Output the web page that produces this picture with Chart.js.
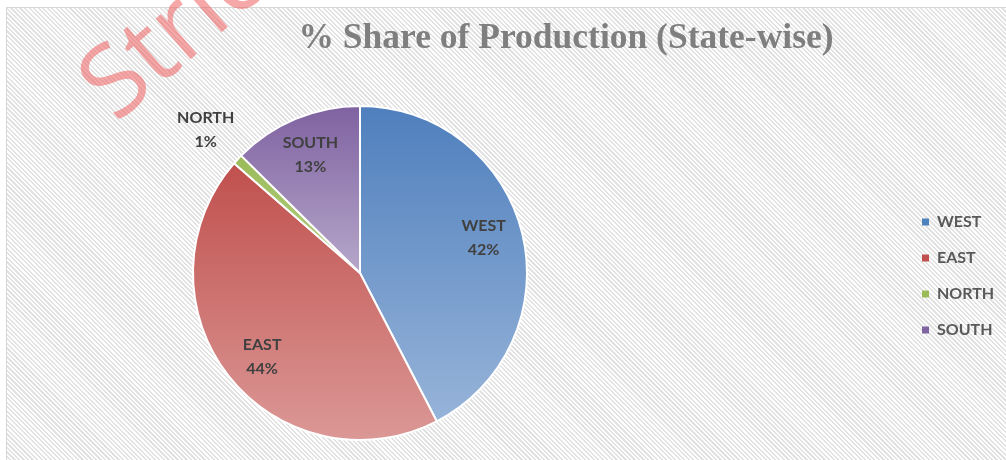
<!DOCTYPE html>
<html><head><meta charset="utf-8">
<script src="https://cdn.jsdelivr.net/npm/chart.js@4.4.1/dist/chart.umd.min.js"></script>
<style>
html,body{margin:0;padding:0;width:1006px;height:460px;overflow:hidden;background:#fff;}
#bg{position:absolute;left:6px;top:7px;width:1010px;height:470px;border:1px solid #d6d6d6;
background:repeating-linear-gradient(45deg,#ffffff 0px,#ffffff 1.6px,#e2e2e2 1.6px,#e2e2e2 3.2px);}
#wrap{position:absolute;left:0;top:0;width:1006px;height:460px;}
</style></head><body>
<div id="bg"></div>
<div id="wrap"><canvas id="c" width="1006" height="460"></canvas></div>
<script>
const categories = ['WEST', 'EAST', 'NORTH', 'SOUTH'];
const shares = [42.4, 44.0, 1.0, 12.6];
const topColors = ['#4f7fbd', '#c0504d', '#9bbb59', '#7f62a1'];
const bottomColors = ['#97b4d9', '#db9896', '#b5cf85', '#b6a7ca'];
const legendColors = ['#4f81bd', '#c0504d', '#9bbb59', '#8064a2'];
const titleText = '% Share of Production (State-wise)';
const watermark = 'Stric';

const R = 167;
Chart.defaults.font.family = 'Lato';

function sliceGradient(c) {
  const chart = c.chart, i = c.dataIndex;
  const a = chart.chartArea;
  if (!a || i === undefined) return legendColors[i || 0];
  const cx = (a.left + a.right) / 2, cy = (a.top + a.bottom) / 2;
  const total = shares.reduce((s, v) => s + v, 0);
  let start = 0;
  for (let k = 0; k < i; k++) start += shares[k];
  const a0 = start / total * 2 * Math.PI, a1 = (start + shares[i]) / total * 2 * Math.PI;
  const ys = [cy, cy - R * Math.cos(a0), cy - R * Math.cos(a1)];
  if (a0 <= 1e-9) ys.push(cy - R);
  if (a1 >= 2 * Math.PI - 1e-9) ys.push(cy - R);
  if (a0 <= Math.PI && a1 >= Math.PI) ys.push(cy + R);
  const g = chart.ctx.createLinearGradient(0, Math.min(...ys), 0, Math.max(...ys));
  g.addColorStop(0, topColors[i]);
  g.addColorStop(1, bottomColors[i]);
  return g;
}

const watermarkPlugin = {
  id: 'watermark',
  beforeDraw(chart) {
    const ctx = chart.ctx;
    ctx.save();
    ctx.translate(116, 124);
    ctx.rotate(-41 * Math.PI / 180);
    ctx.font = '100px "Open Sans"';
    ctx.fillStyle = 'rgba(238,96,96,0.55)';
    ctx.textBaseline = 'alphabetic';
    ctx.fillText(watermark, 0, 0);
    ctx.restore();
  }
};

const labelPlugin = {
  id: 'sliceLabels',
  afterDatasetsDraw(chart) {
    const meta = chart.getDatasetMeta(0);
    const ctx = chart.ctx;
    ctx.save();
    ctx.font = 'bold 16px Lato';
    ctx.fillStyle = '#404040';
    ctx.textAlign = 'center';
    ctx.textBaseline = 'middle';
    meta.data.forEach((arc, i) => {
      const p = arc.getProps(['x', 'y', 'startAngle', 'endAngle', 'outerRadius'], true);
      const mid = (p.startAngle + p.endAngle) / 2 - (shares[i] > 30 ? 0.04 : 0);
      const f = shares[i] < 5 ? 1.26 : 0.77;
      const px = p.x + Math.cos(mid) * p.outerRadius * f;
      const py = p.y + Math.sin(mid) * p.outerRadius * f;
      ctx.fillText(categories[i], px, py - 12);
      ctx.fillText(Math.round(shares[i]) + '%', px, py + 12);
    });
    ctx.restore();
  }
};

const chart = new Chart(document.getElementById('c'), {
  type: 'pie',
  data: {
    labels: categories,
    datasets: [{
      data: shares,
      backgroundColor: sliceGradient,
      borderColor: '#ffffff',
      borderWidth: 2,
      radius: R
    }]
  },
  options: {
    responsive: false,
    animation: false,
    events: [],
    layout: { padding: { left: 130, right: 4, top: 0, bottom: 0 } },
    plugins: {
      tooltip: { enabled: false },
      title: {
        display: true,
        text: titleText,
        color: '#7f7f7f',
        font: { family: '"Liberation Serif"', size: 35.5, weight: 'bold', lineHeight: 1.2 },
        padding: { top: 17.7, bottom: 25.7 }
      },
      subtitle: {
        display: true,
        text: '',
        position: 'right',
        fullSize: false,
        weight: 500,
        font: { size: 1, lineHeight: 1 },
        padding: { top: 300, bottom: 0 }
      },
      legend: {
        display: true,
        position: 'right',
        fullSize: false,
        align: 'center',
        title: { display: true, text: '', padding: 0, font: { size: 5, lineHeight: 1.2 } },
        labels: {
          boxWidth: 7,
          boxHeight: 7,
          padding: 20,
          color: '#595959',
          font: { family: 'Lato', size: 16, weight: 'bold' },
          generateLabels: () => categories.map((t, i) => ({
            text: t, fillStyle: legendColors[i], strokeStyle: legendColors[i],
            lineWidth: 0, hidden: false, index: i, fontColor: '#595959'
          }))
        }
      }
    }
  },
  plugins: [watermarkPlugin, labelPlugin]
});

function adjust() {
  const L = chart.legend.width;
  const padR = Math.max(0, 1006 - 902 - L);
  const padL = 126 + padR;
  const legendLeft = 1006 - padR - L;
  const S = (padL + legendLeft) - 720;
  chart.options.layout.padding = { left: padL, right: padR, top: 0, bottom: 0 };
  chart.options.plugins.subtitle.padding = { top: Math.max(0, S - 1), bottom: 0 };
  chart.update();
}
adjust();
adjust();
</script>
</body></html>
